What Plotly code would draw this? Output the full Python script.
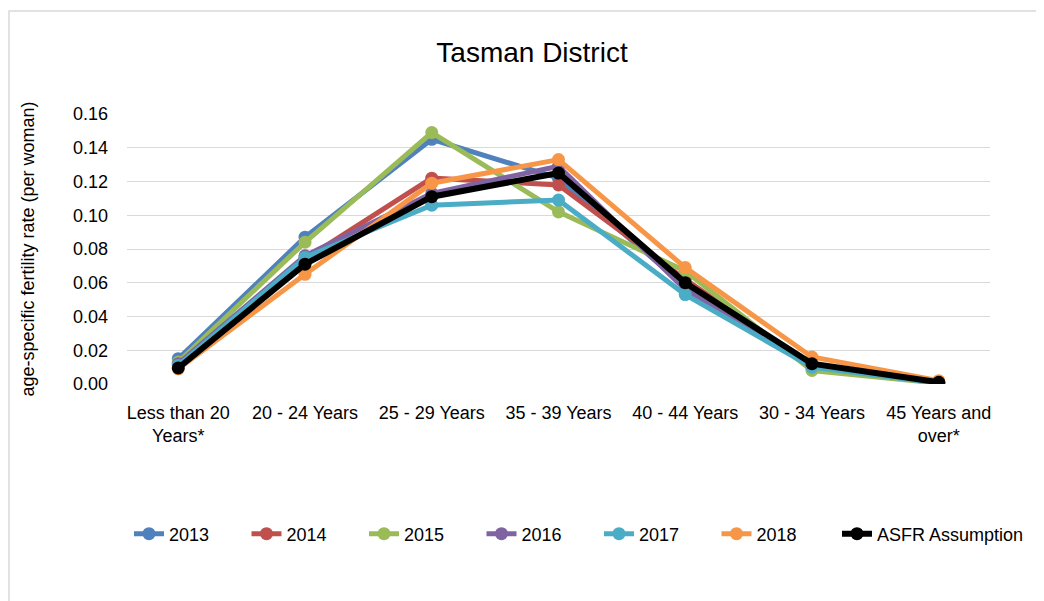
import plotly.graph_objects as go

categories = ["Less than 20<br>Years*", "20 - 24 Years", "25 - 29 Years", "35 - 39 Years",
              "40 - 44 Years", "30 - 34 Years", "45 Years and<br>over*"]

y2013 = [0.015, 0.087, 0.145, 0.122, 0.058, 0.010, 0.001]
y2014 = [0.012, 0.074, 0.122, 0.118, 0.062, 0.010, 0.001]
y2015 = [0.013, 0.084, 0.149, 0.102, 0.067, 0.008, 0.0005]
y2016 = [0.012, 0.076, 0.113, 0.129, 0.056, 0.011, 0.001]
y2017 = [0.011, 0.075, 0.106, 0.109, 0.053, 0.010, 0.0005]
y2018 = [0.009, 0.065, 0.119, 0.133, 0.069, 0.016, 0.002]
asfr = [0.0095, 0.071, 0.111, 0.125, 0.060, 0.012, 0.001]

series = [
    ("2013", y2013, "#4F81BD", 5, "legend"),
    ("2014", y2014, "#C0504D", 5, "legend"),
    ("2015", y2015, "#9BBB59", 5, "legend"),
    ("2016", y2016, "#8064A2", 5, "legend"),
    ("2017", y2017, "#4BACC6", 5, "legend"),
    ("2018", y2018, "#F79646", 5, "legend"),
    ("ASFR Assumption", asfr, "#000000", 6, "legend2"),
]

FONT = "Liberation Sans, Arial, sans-serif"

# plot area in figure pixels
L, T, PW, PH = 119, 106, 863, 270
W, H = 1044, 601

fig = go.Figure()
for name, vals, color, w, lg in series:
    fig.add_trace(go.Scatter(
        x=categories, y=vals, name=name, mode="lines+markers",
        line=dict(color=color, width=w),
        marker=dict(color=color, size=13, symbol="circle"),
        legend=lg,
    ))

leg_y = (PH - (534 - 8 - T)) / PH

fig.update_layout(
    width=W, height=H,
    margin=dict(l=L, r=W - L - PW, t=T, b=H - T - PH),
    paper_bgcolor="white", plot_bgcolor="white",
    font=dict(family=FONT, size=18, color="#000000"),
    title=dict(text="Tasman District", x=(524 - L) / PW, xref="paper", xanchor="center",
               y=1 - 44 / H, yanchor="middle",
               font=dict(family=FONT, size=28, color="#000000")),
    showlegend=True,
    legend=dict(orientation="h", x=(121 - L) / PW, xanchor="left", y=leg_y, yanchor="middle",
                font=dict(family=FONT, size=18), entrywidth=72.5, entrywidthmode="pixels",
                bgcolor="rgba(0,0,0,0)"),
    legend2=dict(orientation="h", x=(829 - L) / PW, xanchor="left", y=leg_y, yanchor="middle",
                 font=dict(family=FONT, size=18), bgcolor="rgba(0,0,0,0)"),
    xaxis=dict(type="category", showgrid=False, showline=False, zeroline=False,
               ticks="", tickfont=dict(family=FONT, size=18), ticklabelstandoff=16),
    yaxis=dict(range=[0, 0.16], dtick=0.02, tickformat=".2f", showgrid=True,
               gridcolor="#D9D9D9", gridwidth=1.3, zeroline=False, showline=False, ticks="",
               tickfont=dict(family=FONT, size=18), ticklabelstandoff=18,
               title=dict(text="age-specific fertility rate (per woman)",
                          font=dict(family=FONT, size=18), standoff=33)),
    shapes=[dict(type="rect", xref="paper", yref="paper",
                 x0=(1 - L) / PW, x1=1.12, y0=-0.95, y1=(PH + T - 3) / PH,
                 line=dict(color="#D9D9D9", width=1.5), fillcolor="rgba(0,0,0,0)", layer="below")],
)

fig.write_html("out.html")
